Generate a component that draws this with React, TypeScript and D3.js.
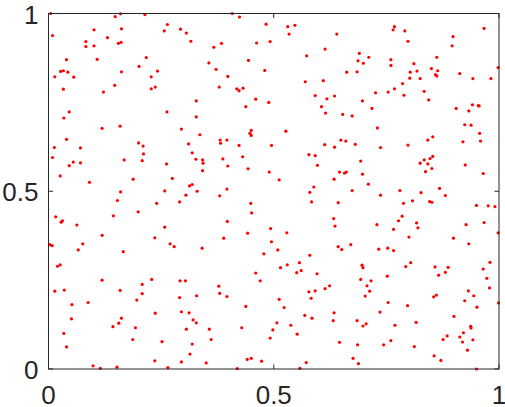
import React, { useEffect, useRef } from "react";
import * as d3 from "d3";

// tick values / labels (same on both axes)
const tickValues = [0, 0.5, 1];
const tickLabels = ["0", "0.5", "1"];

// points, grouped by region of the plot
const topLeft: [number, number][] = [
  [0.005, 1.0], [0.148, 0.991], [0.16, 0.999], [0.214, 0.997], [0.264, 0.969], [0.101, 0.954],
  [0.162, 0.957], [0.257, 0.951], [0.293, 0.956], [0.306, 0.945], [0.009, 0.938], [0.131, 0.932],
  [0.083, 0.921], [0.155, 0.916], [0.161, 0.919], [0.316, 0.922], [0.083, 0.907], [0.101, 0.909],
  [0.217, 0.876], [0.04, 0.87], [0.108, 0.871], [0.201, 0.851], [0.027, 0.837], [0.033, 0.839],
  [0.043, 0.835], [0.162, 0.836], [0.242, 0.838], [0.014, 0.822], [0.056, 0.821], [0.228, 0.822],
  [0.147, 0.798], [0.033, 0.787], [0.122, 0.779], [0.228, 0.788], [0.237, 0.793], [0.328, 0.754],
  [0.046, 0.723], [0.263, 0.723], [0.034, 0.706], [0.328, 0.709], [0.119, 0.677], [0.159, 0.683],
  [0.295, 0.675],
];
const topMiddle: [number, number][] = [
  [0.408, 1.0], [0.424, 0.99], [0.483, 0.97], [0.531, 0.963], [0.547, 0.967], [0.534, 0.942],
  [0.64, 0.942], [0.367, 0.905], [0.384, 0.916], [0.462, 0.917], [0.492, 0.921], [0.614, 0.9],
  [0.573, 0.881], [0.356, 0.861], [0.444, 0.868], [0.372, 0.843], [0.48, 0.84], [0.662, 0.835],
  [0.398, 0.823], [0.57, 0.808], [0.61, 0.811], [0.379, 0.793], [0.418, 0.788], [0.423, 0.783],
  [0.432, 0.79], [0.592, 0.769], [0.618, 0.76], [0.635, 0.768], [0.46, 0.759], [0.489, 0.75],
  [0.438, 0.738], [0.606, 0.738], [0.615, 0.72], [0.653, 0.716], [0.45, 0.671], [0.527, 0.669],
];
const topRight: [number, number][] = [
  [0.768, 0.963], [0.765, 0.954], [0.791, 0.951], [0.967, 0.958], [0.898, 0.935], [0.798, 0.922],
  [0.896, 0.909], [0.69, 0.888], [0.711, 0.877], [0.687, 0.867], [0.699, 0.86], [0.76, 0.87],
  [0.76, 0.854], [0.862, 0.877], [0.811, 0.859], [0.685, 0.836], [0.85, 0.845], [0.864, 0.839],
  [0.803, 0.835], [0.818, 0.838], [0.859, 0.828], [0.862, 0.824], [0.998, 0.848], [0.913, 0.831],
  [0.802, 0.818], [0.825, 0.817], [0.942, 0.817], [0.982, 0.817], [0.786, 0.803], [0.768, 0.788],
  [0.754, 0.779], [0.726, 0.777], [0.834, 0.781], [0.789, 0.77], [0.697, 0.754], [0.844, 0.757],
  [0.941, 0.743], [0.954, 0.741], [0.956, 0.74], [0.718, 0.733], [0.905, 0.733], [0.933, 0.726],
  [0.674, 0.712], [0.924, 0.687], [0.938, 0.686], [0.73, 0.678],
];
const midLeft: [number, number][] = [
  [0.04, 0.646], [0.013, 0.623], [0.071, 0.622], [0.2, 0.636], [0.21, 0.627], [0.311, 0.633],
  [0.319, 0.608], [0.327, 0.59], [0.211, 0.605], [0.009, 0.595], [0.055, 0.582], [0.071, 0.58],
  [0.046, 0.572], [0.168, 0.588], [0.208, 0.586], [0.262, 0.577], [0.026, 0.543], [0.091, 0.525],
  [0.188, 0.534], [0.275, 0.536], [0.319, 0.519], [0.313, 0.515], [0.33, 0.5], [0.16, 0.498],
  [0.258, 0.501], [0.305, 0.489], [0.291, 0.47], [0.153, 0.474], [0.24, 0.466], [0.199, 0.442],
  [0.144, 0.431], [0.016, 0.428], [0.031, 0.417], [0.028, 0.413], [0.063, 0.405], [0.258, 0.399],
  [0.119, 0.376], [0.236, 0.369], [0.003, 0.35], [0.008, 0.347], [0.076, 0.352], [0.27, 0.352],
  [0.279, 0.344], [0.066, 0.335], [0.166, 0.33],
];
const midMiddle: [number, number][] = [
  [0.336, 0.659], [0.381, 0.644], [0.382, 0.635], [0.396, 0.644], [0.447, 0.663], [0.45, 0.657],
  [0.423, 0.629], [0.495, 0.629], [0.613, 0.631], [0.635, 0.624], [0.649, 0.644], [0.66, 0.641],
  [0.578, 0.603], [0.592, 0.6], [0.431, 0.597], [0.342, 0.588], [0.343, 0.579], [0.387, 0.591],
  [0.398, 0.571], [0.443, 0.563], [0.597, 0.573], [0.342, 0.558], [0.49, 0.554], [0.646, 0.554],
  [0.657, 0.551], [0.661, 0.554], [0.512, 0.532], [0.634, 0.534], [0.589, 0.512], [0.396, 0.506],
  [0.58, 0.497], [0.38, 0.487], [0.449, 0.466], [0.584, 0.47], [0.643, 0.468], [0.451, 0.439],
  [0.633, 0.423], [0.397, 0.415], [0.636, 0.402], [0.493, 0.395], [0.529, 0.383], [0.442, 0.382],
  [0.389, 0.368], [0.495, 0.358], [0.341, 0.34], [0.509, 0.335], [0.643, 0.344], [0.651, 0.336],
];
const midRight: [number, number][] = [
  [0.957, 0.663], [0.853, 0.653], [0.842, 0.644], [0.92, 0.639], [0.959, 0.641], [0.681, 0.632],
  [0.737, 0.623], [0.798, 0.63], [0.853, 0.598], [0.847, 0.592], [0.834, 0.588], [0.842, 0.577],
  [0.825, 0.579], [0.851, 0.564], [0.837, 0.555], [0.693, 0.585], [0.925, 0.574], [0.965, 0.55],
  [0.697, 0.548], [0.71, 0.52], [0.674, 0.502], [0.78, 0.502], [0.737, 0.489], [0.827, 0.496],
  [0.868, 0.508], [0.881, 0.488], [0.808, 0.473], [0.788, 0.466], [0.846, 0.471], [0.851, 0.469],
  [0.95, 0.46], [0.976, 0.459], [0.991, 0.457], [0.785, 0.43], [0.777, 0.417], [0.817, 0.411],
  [0.729, 0.406], [0.927, 0.406], [0.967, 0.412], [0.766, 0.393], [0.82, 0.397], [0.998, 0.383],
  [0.8, 0.371], [0.899, 0.368], [0.933, 0.352], [0.671, 0.35], [0.733, 0.337], [0.753, 0.34],
  [0.766, 0.333],
];
const bottomLeft: [number, number][] = [
  [0.02, 0.289], [0.026, 0.293], [0.119, 0.25], [0.014, 0.219], [0.035, 0.222], [0.159, 0.221],
  [0.208, 0.238], [0.229, 0.252], [0.292, 0.248], [0.304, 0.248], [0.208, 0.212], [0.196, 0.194],
  [0.291, 0.201], [0.329, 0.206], [0.052, 0.181], [0.088, 0.187], [0.237, 0.157], [0.295, 0.161],
  [0.312, 0.158], [0.051, 0.141], [0.162, 0.143], [0.156, 0.129], [0.143, 0.119], [0.193, 0.116],
  [0.321, 0.138], [0.328, 0.13], [0.306, 0.112], [0.034, 0.1], [0.187, 0.083], [0.252, 0.077],
  [0.319, 0.07], [0.04, 0.062], [0.314, 0.042], [0.236, 0.023], [0.295, 0.02], [0.099, 0.009],
  [0.115, 0.002], [0.152, 0.005], [0.265, 0.004],
];
const bottomMiddle: [number, number][] = [
  [0.478, 0.324], [0.58, 0.32], [0.557, 0.299], [0.53, 0.293], [0.515, 0.285], [0.551, 0.271],
  [0.561, 0.277], [0.46, 0.27], [0.596, 0.268], [0.47, 0.248], [0.378, 0.233], [0.624, 0.234],
  [0.614, 0.226], [0.592, 0.22], [0.578, 0.217], [0.38, 0.213], [0.396, 0.204], [0.583, 0.199],
  [0.512, 0.196], [0.438, 0.176], [0.523, 0.173], [0.569, 0.151], [0.585, 0.143], [0.634, 0.158],
  [0.632, 0.136], [0.507, 0.13], [0.538, 0.123], [0.429, 0.116], [0.357, 0.112], [0.498, 0.11],
  [0.552, 0.098], [0.492, 0.087], [0.361, 0.083], [0.646, 0.075], [0.45, 0.03], [0.441, 0.027],
  [0.473, 0.022], [0.35, 0.017], [0.572, 0.018], [0.419, 0.001], [0.558, 0.002],
];
const bottomRight: [number, number][] = [
  [0.696, 0.292], [0.698, 0.285], [0.793, 0.288], [0.804, 0.299], [0.858, 0.287], [0.887, 0.286],
  [0.98, 0.3], [0.965, 0.281], [0.866, 0.264], [0.881, 0.272], [0.752, 0.261], [0.973, 0.255],
  [0.693, 0.252], [0.716, 0.248], [0.707, 0.234], [0.979, 0.228], [0.713, 0.219], [0.703, 0.205],
  [0.932, 0.22], [0.861, 0.208], [0.855, 0.203], [0.944, 0.206], [0.924, 0.192], [0.754, 0.187],
  [0.999, 0.186], [0.797, 0.178], [0.951, 0.174], [0.736, 0.16], [0.9, 0.148], [0.685, 0.136],
  [0.705, 0.127], [0.698, 0.121], [0.816, 0.131], [0.769, 0.123], [0.937, 0.12], [0.938, 0.115],
  [0.921, 0.102], [0.913, 0.09], [0.885, 0.093], [0.876, 0.083], [0.919, 0.076], [0.942, 0.082],
  [0.76, 0.08], [0.744, 0.068], [0.686, 0.068], [0.812, 0.063], [0.93, 0.053], [0.856, 0.037],
  [0.871, 0.024], [0.676, 0.03], [0.688, 0.015], [0.95, 0.0],
];

const points = [
  ...topLeft, ...topMiddle, ...topRight,
  ...midLeft, ...midMiddle, ...midRight,
  ...bottomLeft, ...bottomMiddle, ...bottomRight,
];

const App = () => {
  const svgRef = useRef<SVGSVGElement>(null);

  const width = 505, height = 407;
  const left = 48.5, right = 499, top = 13.5, bottom = 369;
  const axisColor = "#262626";
  const font = "'Liberation Sans', Arial, Helvetica, sans-serif";

  useEffect(() => {
    const svg = d3.select(svgRef.current);
    svg.selectAll("*").remove();

    const x = d3.scaleLinear().domain([0, 1]).range([left, right]);
    const y = d3.scaleLinear().domain([0, 1]).range([bottom, top]);

    // points
    svg.append("g")
      .selectAll("circle")
      .data(points)
      .join("circle")
      .attr("cx", d => x(d[0]))
      .attr("cy", d => y(d[1]))
      .attr("r", 1.6)
      .attr("fill", "#ff0000");

    // box
    svg.append("rect")
      .attr("x", left)
      .attr("y", top)
      .attr("width", right - left)
      .attr("height", bottom - top)
      .attr("fill", "none")
      .attr("stroke", axisColor)
      .attr("stroke-width", 1);

    // ticks inside, on all four sides (MATLAB box style)
    const tl = 4.5;
    const g = svg.append("g").attr("stroke", axisColor).attr("stroke-width", 1);
    tickValues.forEach(v => {
      g.append("line").attr("x1", x(v)).attr("x2", x(v)).attr("y1", bottom).attr("y2", bottom - tl);
      g.append("line").attr("x1", x(v)).attr("x2", x(v)).attr("y1", top).attr("y2", top + tl);
      g.append("line").attr("y1", y(v)).attr("y2", y(v)).attr("x1", left).attr("x2", left + tl);
      g.append("line").attr("y1", y(v)).attr("y2", y(v)).attr("x1", right).attr("x2", right - tl);
    });

    // tick labels
    tickValues.forEach((v, i) => {
      svg.append("text")
        .attr("x", x(v))
        .attr("y", bottom + 35)
        .attr("text-anchor", "middle")
        .style("font-family", font)
        .style("font-size", "26px")
        .attr("fill", axisColor)
        .text(tickLabels[i]);
      svg.append("text")
        .attr("x", left - 10)
        .attr("y", y(v) + 10)
        .attr("text-anchor", "end")
        .style("font-family", font)
        .style("font-size", "26px")
        .attr("fill", axisColor)
        .text(tickLabels[i]);
    });
  }, []);

  return (
    <svg
      ref={svgRef}
      width={width}
      height={height}
      style={{ position: "absolute", left: 0, top: 0, background: "#fff" }}
    ></svg>
  );
};

export default App;
